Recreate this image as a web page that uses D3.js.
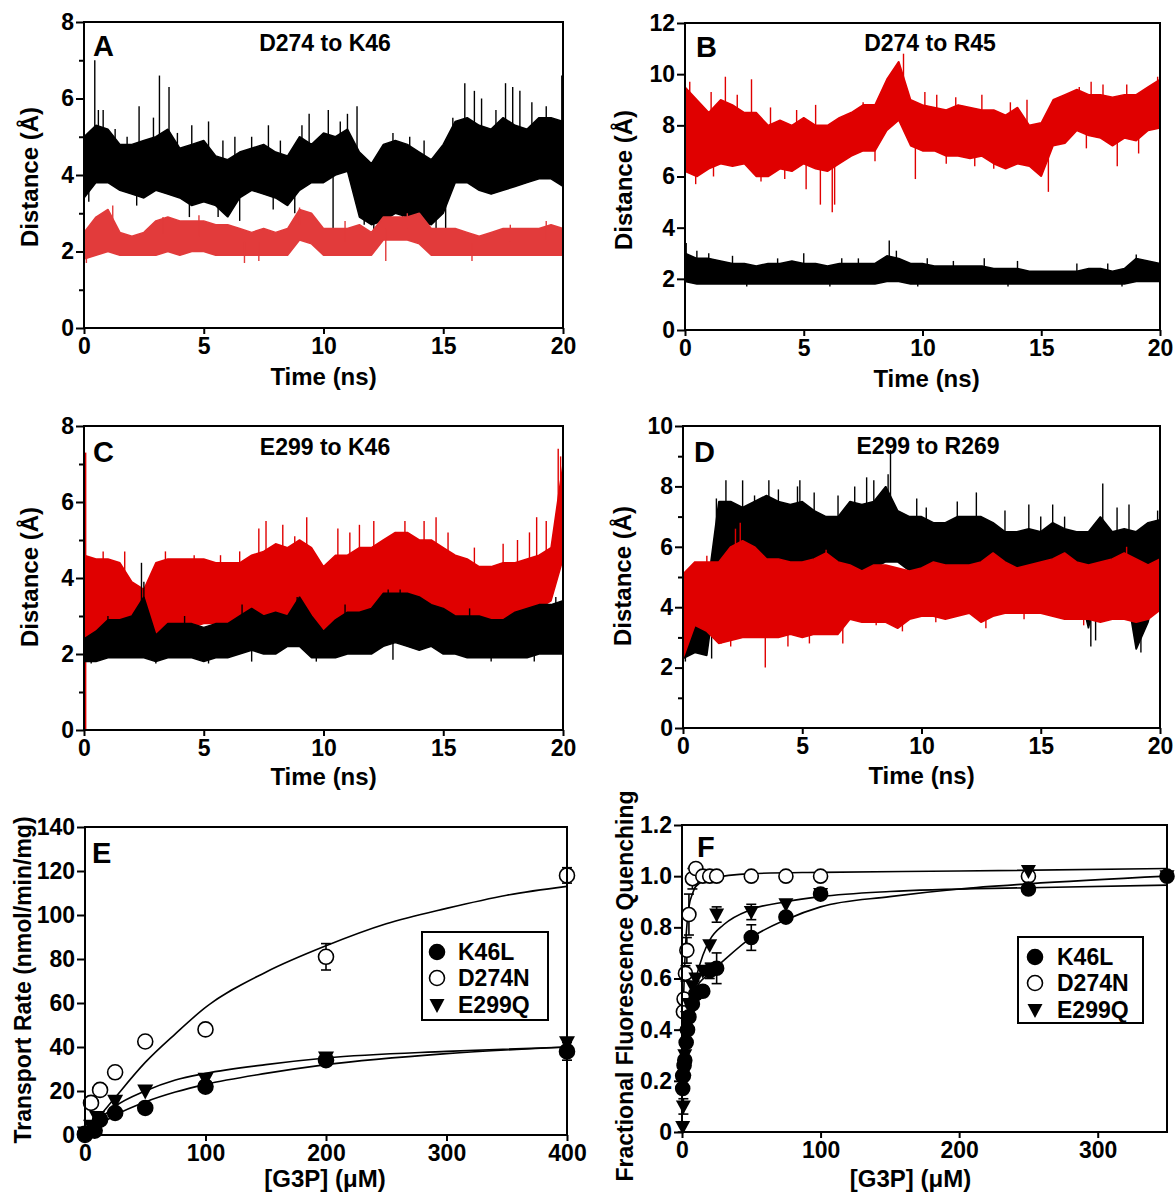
<!DOCTYPE html>
<html>
<head>
<meta charset="utf-8">
<script src="https://cdn.jsdelivr.net/npm/d3@7"></script>
<style>
  body { margin: 0; background: #fff; }
  text { font-family: "Liberation Sans", Arial, sans-serif; font-weight: bold; }
</style>
</head>
<body>
<script>
const width = 1176;
const height = 1196;
const redA = "#e23b3b";
const red = "#e00000";

// time grid of the MD traces (ns), one envelope sample every 0.5 ns
const tGrid = [0,0.5,1,1.5,2,2.5,3,3.5,4,4.5,5,5.5,6,6.5,7,7.5,8,8.5,9,9.5,
  10,10.5,11,11.5,12,12.5,13,13.5,14,14.5,15,15.5,16,16.5,17,17.5,18,18.5,19,19.5,20];

// panel A  D274 to K46
const aBlackLo = [3.4,3.8,3.8,3.6,3.5,3.4,3.6,3.5,3.4,3.2,3.3,3.2,2.9,3.4,3.6,3.5,3.4,3.2,3.6,3.8,
  3.8,4.0,4.1,2.9,2.7,2.8,3.0,2.9,2.8,2.7,3.0,3.8,3.8,3.6,3.5,3.6,3.7,3.8,3.9,3.9,3.7];
const aBlackHi = [5.0,5.3,5.2,4.8,4.8,4.9,5.0,5.2,4.7,4.8,4.9,4.5,4.4,4.6,4.7,4.8,4.6,4.5,5.0,4.8,
  5.1,5.0,5.2,4.6,4.3,4.8,4.9,4.8,4.6,4.4,4.8,5.4,5.5,5.3,5.2,5.5,5.3,5.2,5.5,5.5,5.4];
const aBlackSpikes = [[0.45,7.0],[0.6,5.7],[0.8,5.7],[1.3,5.2],[1.8,5.0],[2.3,5.8],[2.9,5.5],[3.15,6.6],
  [3.55,6.3],[3.9,5.1],[4.5,5.3],[5.2,5.4],[5.8,4.9],[6.3,5.0],[7.0,5.0],[7.7,5.3],[8.2,4.9],[9.1,5.3],
  [9.4,5.6],[10.2,5.7],[10.7,5.4],[11.0,5.6],[11.4,5.8],[12.9,5.1],[13.6,5.0],[14.2,4.9],[15.4,5.5],
  [15.9,6.4],[16.3,6.2],[16.6,6.0],[17.2,5.7],[17.6,6.4],[17.9,6.3],[18.2,6.2],[18.7,5.9],[19.3,5.8],
  [19.95,6.6],
  [6.5,2.8],[10.4,2.6],[15.1,2.6],[4.4,2.9],[12.1,2.5],[14.7,2.5],[8.8,3.0],[0.2,3.3],[5.6,2.9],
  [11.7,2.7],[13.3,2.6],[2.2,3.2],[7.9,3.1]];
const aRedLo = [1.8,1.9,2.0,1.9,1.9,1.9,1.9,2.0,1.9,2.0,2.0,1.9,1.9,1.9,1.9,1.9,1.9,1.9,2.3,2.2,
  1.9,1.9,1.9,1.9,1.9,2.3,2.3,2.3,2.2,1.9,1.9,1.9,1.9,1.9,1.9,1.9,1.9,1.9,1.9,1.9,1.9];
const aRedHi = [2.5,2.9,3.1,2.5,2.4,2.5,2.8,2.9,2.8,2.8,2.8,2.7,2.7,2.6,2.5,2.6,2.5,2.6,3.1,3.0,
  2.6,2.6,2.6,2.7,2.5,2.9,2.9,2.9,3.0,2.6,2.6,2.6,2.5,2.4,2.5,2.6,2.6,2.6,2.6,2.7,2.6];
const aRedSpikes = [[0.1,1.7],[1.2,3.2],[3.3,2.9],[6.7,1.7],[9.0,3.15],[12.6,1.75],[13.5,3.0],[19.3,2.8],
  [4.8,2.95],[7.3,1.75],[16.2,1.75],[17.8,2.7],[10.9,2.8]];

// panel B  D274 to R45
const bRedLo = [6.2,6.0,6.3,6.5,6.4,6.5,6.0,6.0,6.3,6.2,6.5,6.3,6.2,6.5,6.8,7.0,7.0,7.8,8.2,7.2,
  7.0,7.0,6.8,6.8,6.7,6.8,6.5,6.3,6.5,6.4,6.0,7.2,7.3,7.8,7.6,7.5,7.2,7.5,7.4,7.8,7.9];
const bRedHi = [9.5,9.0,8.5,9.0,8.8,8.5,8.5,8.0,8.2,8.0,8.3,8.0,8.0,8.3,8.5,8.8,8.8,9.8,10.5,9.0,
  8.8,8.7,8.6,8.8,8.7,8.6,8.6,8.4,8.7,8.0,8.1,9.0,9.2,9.4,9.2,9.2,9.1,9.2,9.2,9.5,9.8];
const bRedSpikes = [[0.2,9.7],[1.7,9.9],[2.8,9.8],[3.6,8.7],[5.5,8.8],[9.2,10.8],[10.1,9.3],[10.6,9.2],
  [12.5,9.2],[14.4,9.0],[16.6,9.5],[17.1,9.7],[17.6,9.6],[19.9,9.9],[1.1,9.3],[2.2,9.2],[4.7,8.6],
  [7.5,8.9],[11.4,9.1],[13.7,8.9],[18.6,9.6],
  [0.45,5.7],[3.2,5.8],[5.1,5.5],[5.7,4.9],[6.2,4.6],[6.3,4.9],[9.7,5.9],[15.3,5.4],[18.2,6.4],
  [19.1,6.9],[1.2,6.0],[13.0,6.3],[4.2,5.9],[8.0,6.6],[11.0,6.5],[12.2,6.4],[16.9,7.1]];
const bBlackLo = [1.9,1.8,1.8,1.8,1.8,1.8,1.8,1.8,1.8,1.8,1.8,1.8,1.8,1.8,1.8,1.8,1.8,1.9,1.9,1.8,
  1.8,1.8,1.8,1.8,1.8,1.8,1.8,1.8,1.8,1.8,1.8,1.8,1.8,1.8,1.8,1.8,1.8,1.8,1.9,1.9,1.9];
const bBlackHi = [3.0,2.8,2.8,2.7,2.6,2.6,2.5,2.6,2.6,2.7,2.6,2.6,2.5,2.6,2.6,2.6,2.6,2.9,2.8,2.6,
  2.6,2.5,2.5,2.5,2.5,2.5,2.4,2.4,2.4,2.3,2.3,2.3,2.3,2.3,2.4,2.4,2.3,2.4,2.8,2.7,2.6];
const bBlackSpikes = [[0.05,3.4],[0.5,3.1],[1.0,3.0],[2.0,2.9],[5.0,3.0],[6.6,2.8],[8.6,3.5],[8.9,3.1],
  [12.6,2.8],[11.3,2.7],[19.0,2.95],[14.0,2.7],[3.9,2.8],[7.3,2.8],[10.2,2.8],[16.5,2.6],[17.8,2.6],
  [2.6,1.7],[6.1,1.7],[9.8,1.7],[13.6,1.7],[18.4,1.7]];

// panel C  E299 to K46
const cRedLo = [2.4,2.5,2.8,2.6,2.2,2.0,2.2,2.5,2.7,2.7,2.8,2.8,2.7,2.6,2.9,3.0,3.0,3.0,3.2,3.0,
  2.5,2.7,2.8,2.9,3.0,3.3,3.5,3.4,3.3,3.2,3.1,3.0,3.0,2.9,2.7,2.8,2.8,3.0,3.2,3.4,4.5];
const cRedHi = [4.6,4.5,4.5,4.4,3.9,3.7,4.4,4.5,4.5,4.5,4.5,4.4,4.4,4.4,4.6,4.7,4.9,4.8,5.0,4.8,
  4.3,4.6,4.6,4.8,4.8,5.0,5.2,5.2,5.0,5.0,4.8,4.6,4.5,4.3,4.3,4.4,4.4,4.5,4.6,4.8,7.0];
const cRedSpikes = [[0.07,0],[0.07,7.3],[1.7,4.7],[6.5,4.7],[7.3,5.3],[7.6,5.5],[8.3,5.4],[9.3,5.6],
  [10.6,5.3],[11.1,5.2],[11.5,5.4],[12.1,5.5],[13.4,5.5],[14.2,5.5],[14.7,5.6],[15.2,5.2],[17.5,4.9],
  [18.1,5.0],[18.6,5.2],[18.9,5.6],[19.3,5.5],[19.8,7.4],[19.9,7.2],[0.8,4.7],[3.4,4.7],[4.6,4.6],
  [5.7,4.6],[8.8,5.1],[16.3,4.8]];
const cBlackLo = [1.8,1.8,1.9,1.9,1.9,1.9,1.8,1.9,1.9,1.9,1.8,1.9,1.9,2.0,2.1,2.0,2.0,2.2,2.2,1.9,
  1.9,1.9,2.0,2.0,2.0,2.2,2.3,2.2,2.1,2.2,2.0,2.0,1.9,1.9,1.9,1.9,1.9,1.9,2.0,2.0,2.0];
const cBlackHi = [2.4,2.6,2.9,2.9,3.0,3.5,2.5,2.8,2.8,2.8,2.7,2.8,2.8,3.0,3.2,3.0,3.1,3.0,3.5,3.0,
  2.6,2.9,3.1,3.1,3.2,3.6,3.6,3.6,3.5,3.3,3.2,3.0,3.0,3.0,2.9,2.9,3.1,3.2,3.3,3.3,3.4];
const cBlackSpikes = [[2.4,4.4],[2.5,3.9],[1.0,3.0],[6.6,3.3],[8.9,3.5],[12.7,3.7],[14.7,3.2],[13.2,3.7],
  [0.3,1.75],[5.2,1.75],[3.0,1.75],[7.0,1.8],[9.7,1.8],[12.9,1.85],[17.0,1.8],[18.8,1.8],[4.2,3.0],
  [10.9,3.3],[16.1,3.2],[19.7,3.5]];

// panel D  E299 to R269
const dBlackLo = [2.3,2.5,2.4,5.3,5.3,5.5,5.0,5.5,5.5,5.3,5.4,5.5,5.4,5.2,5.0,5.2,5.3,5.5,5.5,5.2,
  5.0,5.0,5.0,5.1,5.2,5.2,4.8,5.0,5.0,5.1,5.2,5.0,5.1,5.0,3.3,5.0,5.0,5.0,2.6,3.5,5.2];
const dBlackHi = [5.0,4.5,4.5,7.5,7.5,7.3,7.5,7.7,7.5,7.4,7.5,7.2,7.0,7.0,7.5,7.4,7.5,8.0,7.2,7.0,
  7.0,6.8,6.8,7.0,7.0,7.0,6.8,6.5,6.5,6.6,6.5,6.8,6.6,6.5,6.5,7.0,6.5,6.6,6.5,6.8,6.9];
const dBlackSpikes = [[1.4,7.6],[1.8,8.2],[2.5,8.2],[3.0,7.7],[3.6,8.2],[4.0,7.9],[4.8,8.0],[4.9,8.2],
  [5.5,7.8],[6.5,7.7],[7.2,8.0],[7.7,8.3],[8.0,8.2],[8.7,9.2],[8.6,8.4],[9.8,7.6],[10.2,7.3],[11.5,7.5],
  [12.3,7.8],[13.5,7.2],[14.5,7.4],[15.0,7.0],[15.5,7.4],[16.0,7.0],[17.6,8.1],[18.2,7.3],[18.7,7.4],
  [19.9,7.2],[17.1,2.7],[19.2,2.5],[1.2,2.3],[0.1,2.2],[3.4,3.3],[0.6,2.6],[17.3,2.9],[19.0,2.7]];
const dRedLo = [2.3,3.4,3.2,2.8,2.9,3.0,3.0,3.0,3.0,3.1,3.0,3.1,3.1,3.1,3.6,3.5,3.5,3.5,3.3,3.6,
  3.7,3.7,3.6,3.7,3.8,3.5,3.7,3.8,3.8,3.8,3.8,3.7,3.6,3.6,3.6,3.5,3.6,3.6,3.5,3.6,3.9];
const dRedHi = [5.1,5.5,5.5,5.5,6.0,6.2,6.0,5.6,5.6,5.5,5.5,5.6,5.8,5.5,5.4,5.2,5.4,5.4,5.3,5.2,
  5.3,5.5,5.4,5.4,5.4,5.5,5.8,5.5,5.3,5.4,5.5,5.6,5.8,5.5,5.4,5.5,5.6,5.8,5.6,5.4,5.6];
const dRedSpikes = [[2.2,6.6],[2.4,6.8],[1.0,5.7],[6.0,5.9],[18.6,6.0],[3.45,2.0],[4.4,2.7],[5.3,2.8],
  [6.7,2.8],[9.2,3.2],[12.7,3.3],[2.0,2.7],[1.6,2.8],[8.1,3.4],[10.6,3.5],[14.3,3.6],[16.8,3.4]];

// panel E  transport kinetics
const eK46L_x = [0,8,12.5,25,50,100,200,400];
const eK46L_y = [0.5,2,7,10,12.3,22,34,38];
const eK46L_err = [0,0,0,0,0,0,2,4];
const eD274N_x = [0,5,12.5,25,50,100,200,400];
const eD274N_y = [0,14.6,20.5,28.5,42.5,48,81,118];
const eD274N_err = [0,0,0,0,0,0,6,3.5];
const eE299Q_x = [0,5,10,25,50,100,200,400];
const eE299Q_y = [1,4,8,15.4,20,25.4,35,42];
const eE299Q_err = [0,0,0,0,0,0,1.5,2];
const eFitD_x = [0,10,25,50,75,100,150,200,250,300,350,400];
const eFitD_y = [0,7,17,33,46,58,74,86,96,103,109,113];
const eFitE_x = [0,10,25,50,75,100,150,200,300,400];
const eFitE_y = [0,6,13,20,25,28,32,35,38,40];
const eFitK_x = [0,10,25,50,75,100,150,200,300,400];
const eFitK_y = [0,4,9,15,19.5,23,28,32,37,40];

// panel F  fluorescence quenching
const fK46L_x = [0.5,1,1.5,2,3,4,5,7.5,10,15,20,25,50,75,100,250,350];
const fK46L_y = [0.17,0.22,0.26,0.28,0.35,0.4,0.45,0.5,0.54,0.55,0.63,0.64,0.76,0.84,0.93,0.95,1.0];
const fK46L_err = [0,0,0,0,0,0,0,0,0.02,0.02,0.03,0.06,0.05,0,0,0,0];
const fD274N_x = [0.5,1,1.5,2.5,3.5,5,7.5,10,15,20,25,50,75,100,250];
const fD274N_y = [0.22,0.47,0.52,0.62,0.71,0.85,0.99,1.03,1.0,1.0,1.0,1.0,1.0,1.0,1.0];
const fD274N_err = [0,0,0,0.03,0.05,0.08,0.04,0,0,0,0,0,0,0,0];
const fE299Q_x = [0.5,1,1.5,2,3,4,5,7.5,10,15,20,25,50,75,100,250,350];
const fE299Q_y = [0.02,0.1,0.2,0.3,0.38,0.45,0.5,0.57,0.6,0.63,0.73,0.85,0.86,0.89,0.93,1.02,1.0];
const fE299Q_err = [0.02,0.03,0.02,0,0,0,0,0,0,0,0,0.03,0.03,0,0,0,0];
const fFitD_x = [0.3,1,2,3,5,7.5,10,20,50,100,200,350];
const fFitD_y = [0.2,0.48,0.66,0.77,0.88,0.93,0.96,0.99,1.01,1.015,1.02,1.03];
const fFitE_x = [6,10,15,20,30,50,75,100,150,250,350];
const fFitE_y = [0.5,0.6,0.69,0.75,0.81,0.87,0.9,0.92,0.94,0.955,0.965];
const fFitK_x = [5,10,20,30,50,75,100,150,200,250,350];
const fFitK_y = [0.48,0.56,0.62,0.67,0.76,0.83,0.88,0.92,0.95,0.97,1.0];

const legendNames = ["K46L", "D274N", "E299Q"];

const svg = d3.select("body")
    .append("svg")
    .attr("width", width)
    .attr("height", height);

function styleAxis(g) {
    g.select(".domain").remove();
    g.selectAll(".tick line").attr("stroke", "#000").attr("stroke-width", 2);
    g.selectAll(".tick text").attr("font-size", 23).attr("fill", "#000")
        .attr("font-family", "'Liberation Sans', Arial, sans-serif");
}

function setupPanel(p) {
    const x = d3.scaleLinear().domain(p.xDomain).range([p.x0, p.x1]);
    const y = d3.scaleLinear().domain(p.yDomain).range([p.y1, p.y0]);
    const g = svg.append("g");

    if (p.minor) {
        g.append("g")
            .attr("transform", "translate(" + p.x0 + ",0)")
            .call(d3.axisLeft(y).tickValues(p.minor).tickSize(5).tickFormat(""))
            .call(styleAxis);
    }
    g.append("g")
        .attr("transform", "translate(" + p.x0 + ",0)")
        .call(d3.axisLeft(y).tickValues(p.yTicks).tickSize(8).tickPadding(2).tickFormat(p.yFormat || null))
        .call(styleAxis);
    g.append("g")
        .attr("transform", "translate(0," + p.y1 + ")")
        .call(d3.axisBottom(x).tickValues(p.xTicks).tickSize(6).tickPadding(4))
        .call(styleAxis);

    const plot = g.append("g");

    g.append("rect")
        .attr("x", p.x0).attr("y", p.y0)
        .attr("width", p.x1 - p.x0).attr("height", p.y1 - p.y0)
        .attr("fill", "none").attr("stroke", "#000").attr("stroke-width", 2);

    g.append("text")
        .attr("x", p.letterX).attr("y", p.letterY)
        .attr("font-size", 29)
        .text(p.letter);

    if (p.title) {
        g.append("text")
            .attr("x", p.titleX).attr("y", p.titleY)
            .attr("text-anchor", "middle")
            .attr("font-size", 23)
            .text(p.title);
    }

    g.append("text")
        .attr("x", (p.x0 + p.x1) / 2 + (p.xLabelDx || 0)).attr("y", p.xLabelY)
        .attr("text-anchor", "middle")
        .attr("font-size", p.xLabelSize || 24)
        .text(p.xLabel);

    g.append("text")
        .attr("transform", "translate(" + p.yLabelX + "," + p.yLabelY + ") rotate(-90)")
        .attr("text-anchor", "middle")
        .attr("dominant-baseline", "central")
        .attr("font-size", p.yLabelSize || 24)
        .text(p.yLabel);

    return { x, y, plot };
}

function drawTrace(s, lo, hi, spikes, color) {
    const rows = tGrid.map((t, i) => ({ t: t, lo: lo[i], hi: hi[i] }));
    const area = d3.area()
        .x(d => s.x(d.t))
        .y0(d => s.y(d.lo))
        .y1(d => s.y(d.hi));
    s.plot.append("path")
        .datum(rows)
        .attr("d", area)
        .attr("fill", color)
        .attr("stroke", color)
        .attr("stroke-width", 1.5)
        .attr("stroke-linejoin", "bevel");

    const bis = d3.bisector(d => d.t).center;
    s.plot.selectAll(null)
        .data(spikes)
        .enter()
        .append("line")
        .attr("x1", d => s.x(d[0]))
        .attr("x2", d => s.x(d[0]))
        .attr("y1", d => {
            const r = rows[bis(rows, d[0])];
            return s.y((r.lo + r.hi) / 2);
        })
        .attr("y2", d => s.y(d[1]))
        .attr("stroke", color)
        .attr("stroke-width", 1.4);
}

const timeTicks = [0, 5, 10, 15, 20];

// ---- A ----
const pA = setupPanel({
    x0: 84, x1: 563, y0: 22, y1: 328, xDomain: [0, 20], yDomain: [0, 8],
    xTicks: timeTicks, yTicks: [0, 2, 4, 6, 8], minor: [1, 3, 5, 7],
    letter: "A", letterX: 93, letterY: 56, title: "D274 to K46", titleX: 325, titleY: 51,
    xLabel: "Time (ns)", xLabelY: 385, yLabel: "Distance (Å)", yLabelX: 29, yLabelY: 177
});
drawTrace(pA, aBlackLo, aBlackHi, aBlackSpikes, "#000");
drawTrace(pA, aRedLo, aRedHi, aRedSpikes, redA);

// ---- B ----
const pB = setupPanel({
    x0: 685, x1: 1160, y0: 23, y1: 330, xDomain: [0, 20], yDomain: [0, 12],
    xTicks: timeTicks, yTicks: [0, 2, 4, 6, 8, 10, 12],
    letter: "B", letterX: 696, letterY: 57, title: "D274 to R45", titleX: 930, titleY: 51,
    xLabel: "Time (ns)", xLabelY: 387, xLabelDx: 4, yLabel: "Distance (Å)", yLabelX: 623, yLabelY: 180
});
drawTrace(pB, bRedLo, bRedHi, bRedSpikes, red);
drawTrace(pB, bBlackLo, bBlackHi, bBlackSpikes, "#000");

// ---- C ----
const pC = setupPanel({
    x0: 84, x1: 563, y0: 426, y1: 730, xDomain: [0, 20], yDomain: [0, 8],
    xTicks: timeTicks, yTicks: [0, 2, 4, 6, 8], minor: [1, 3, 5, 7],
    letter: "C", letterX: 93, letterY: 462, title: "E299 to K46", titleX: 325, titleY: 455,
    xLabel: "Time (ns)", xLabelY: 785, yLabel: "Distance (Å)", yLabelX: 29, yLabelY: 577
});
drawTrace(pC, cRedLo, cRedHi, cRedSpikes, red);
drawTrace(pC, cBlackLo, cBlackHi, cBlackSpikes, "#000");

// ---- D ----
const pD = setupPanel({
    x0: 683, x1: 1160, y0: 426, y1: 728, xDomain: [0, 20], yDomain: [0, 10],
    xTicks: timeTicks, yTicks: [0, 2, 4, 6, 8, 10], minor: [1, 3, 5, 7, 9],
    letter: "D", letterX: 694, letterY: 462, title: "E299 to R269", titleX: 928, titleY: 454,
    xLabel: "Time (ns)", xLabelY: 784, yLabel: "Distance (Å)", yLabelX: 622, yLabelY: 576
});
drawTrace(pD, dBlackLo, dBlackHi, dBlackSpikes, "#000");
drawTrace(pD, dRedLo, dRedHi, dRedSpikes, red);

// ---- kinetics ----
function marker(sel, kind, r) {
    if (kind === 2) {
        sel.append("path")
            .attr("d", "M" + (-r) + "," + (-r * 0.8) + "L" + r + "," + (-r * 0.8) + "L0," + (r * 1.05) + "Z")
            .attr("fill", "#000");
    } else {
        sel.append("circle")
            .attr("r", r)
            .attr("fill", kind === 0 ? "#000" : "#fff")
            .attr("stroke", "#000")
            .attr("stroke-width", 1.6);
    }
}

function drawSeries(s, xs, ys, errs, kind, r) {
    const rows = xs.map((v, i) => ({ x: v, y: ys[i], e: errs[i] }));
    const eb = s.plot.append("g").attr("stroke", "#000").attr("stroke-width", 1.6);
    rows.filter(d => d.e > 0).forEach(d => {
        const cx = s.x(d.x);
        eb.append("line").attr("x1", cx).attr("x2", cx)
            .attr("y1", s.y(d.y - d.e)).attr("y2", s.y(d.y + d.e));
        [d.y - d.e, d.y + d.e].forEach(v => {
            eb.append("line").attr("x1", cx - 5).attr("x2", cx + 5)
                .attr("y1", s.y(v)).attr("y2", s.y(v));
        });
    });
    s.plot.selectAll(null)
        .data(rows)
        .enter()
        .append("g")
        .attr("transform", d => "translate(" + s.x(d.x) + "," + s.y(d.y) + ")")
        .each(function () { marker(d3.select(this), kind, r); });
}

function drawFit(s, xs, ys) {
    const line = d3.line()
        .x(d => s.x(d[0]))
        .y(d => s.y(d[1]))
        .curve(d3.curveMonotoneX);
    s.plot.append("path")
        .datum(xs.map((v, i) => [v, ys[i]]))
        .attr("d", line)
        .attr("fill", "none")
        .attr("stroke", "#000")
        .attr("stroke-width", 1.6);
}

function drawLegend(bx, by, bw, bh, rowsY, symX, textX) {
    const lg = svg.append("g");
    lg.append("rect")
        .attr("x", bx).attr("y", by).attr("width", bw).attr("height", bh)
        .attr("fill", "#fff").attr("stroke", "#000").attr("stroke-width", 2);
    legendNames.forEach((name, i) => {
        const row = lg.append("g").attr("transform", "translate(" + symX + "," + rowsY[i] + ")");
        marker(row, i, 7.5);
        lg.append("text")
            .attr("x", textX).attr("y", rowsY[i])
            .attr("dominant-baseline", "central")
            .attr("font-size", 23)
            .text(name);
    });
}

// ---- E ----
const pE = setupPanel({
    x0: 85, x1: 567, y0: 827, y1: 1135, xDomain: [0, 400], yDomain: [0, 140],
    xTicks: [0, 100, 200, 300, 400], yTicks: [0, 20, 40, 60, 80, 100, 120, 140],
    letter: "E", letterX: 92, letterY: 863,
    xLabel: "[G3P] (μM)", xLabelY: 1187, xLabelDx: -1, xLabelSize: 24,
    yLabel: "Transport Rate (nmol/min/mg)", yLabelX: 23, yLabelY: 980, yLabelSize: 23
});
drawFit(pE, eFitD_x, eFitD_y);
drawFit(pE, eFitE_x, eFitE_y);
drawFit(pE, eFitK_x, eFitK_y);
drawSeries(pE, eD274N_x, eD274N_y, eD274N_err, 1, 7.5);
drawSeries(pE, eE299Q_x, eE299Q_y, eE299Q_err, 2, 8);
drawSeries(pE, eK46L_x, eK46L_y, eK46L_err, 0, 7.5);
drawLegend(422, 932, 126, 88, [952, 978, 1005], 437, 458);

// ---- F ----
const pF = setupPanel({
    x0: 682, x1: 1167, y0: 825, y1: 1132, xDomain: [0, 350], yDomain: [0, 1.2],
    xTicks: [0, 100, 200, 300], yTicks: [0, 0.2, 0.4, 0.6, 0.8, 1.0, 1.2],
    yFormat: d => d === 0 ? "0" : d3.format(".1f")(d),
    letter: "F", letterX: 697, letterY: 857,
    xLabel: "[G3P] (μM)", xLabelY: 1187, xLabelDx: -14, xLabelSize: 24,
    yLabel: "Fractional Fluorescence Quenching", yLabelX: 625, yLabelY: 986, yLabelSize: 23
});
drawFit(pF, fFitD_x, fFitD_y);
drawFit(pF, fFitE_x, fFitE_y);
drawFit(pF, fFitK_x, fFitK_y);
drawSeries(pF, fD274N_x, fD274N_y, fD274N_err, 1, 7);
drawSeries(pF, fE299Q_x, fE299Q_y, fE299Q_err, 2, 7.5);
drawSeries(pF, fK46L_x, fK46L_y, fK46L_err, 0, 7);
drawLegend(1018, 937, 125, 86, [957, 983, 1010], 1035, 1057);
</script>
</body>
</html>
